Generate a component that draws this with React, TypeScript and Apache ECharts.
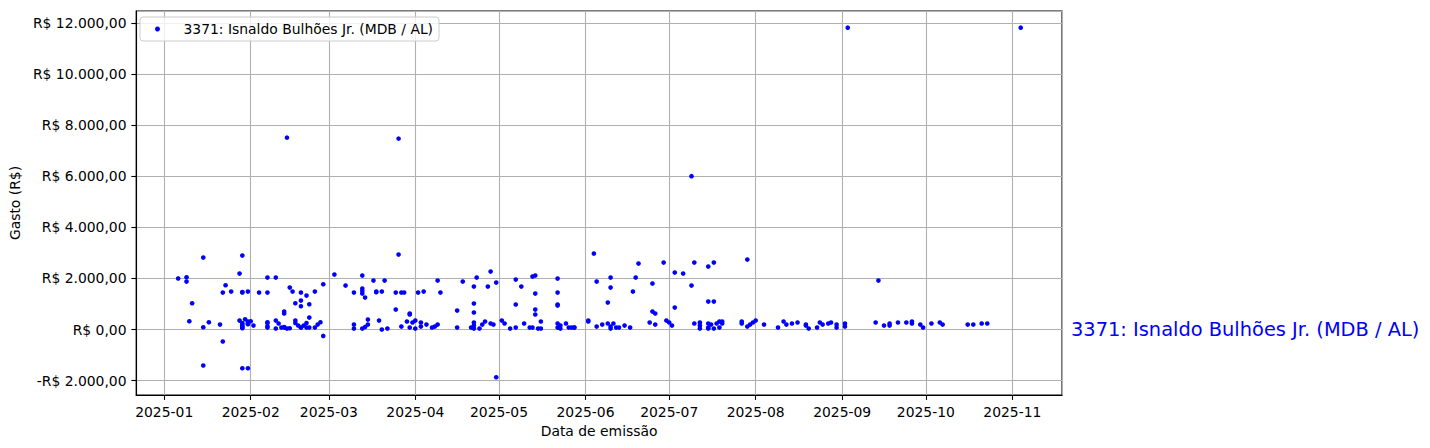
import React, { useEffect, useRef } from "react";
import * as echarts from "echarts";

const seriesName = "3371: Isnaldo Bulhões Jr. (MDB / AL)";
const xAxisTitle = "Data de emissão";
const yAxisTitle = "Gasto (R$)";

const emissionDates: string[] = [
  "2025-01-06", "2025-01-09", "2025-01-09", "2025-01-10", "2025-01-11",
  "2025-01-15", "2025-01-15", "2025-01-15", "2025-01-17", "2025-01-21",
  "2025-01-22", "2025-01-22", "2025-01-23", "2025-01-25", "2025-01-28",
  "2025-01-28", "2025-01-29", "2025-01-29", "2025-01-29", "2025-01-29",
  "2025-01-29", "2025-01-29", "2025-01-29", "2025-01-29", "2025-01-29",
  "2025-01-30", "2025-01-31", "2025-01-31", "2025-01-31", "2025-01-31",
  "2025-01-31", "2025-02-01", "2025-02-02", "2025-02-04", "2025-02-07",
  "2025-02-07", "2025-02-07", "2025-02-07", "2025-02-07", "2025-02-07",
  "2025-02-10", "2025-02-10", "2025-02-10", "2025-02-11", "2025-02-12",
  "2025-02-13", "2025-02-13", "2025-02-13", "2025-02-13", "2025-02-14",
  "2025-02-14", "2025-02-15", "2025-02-15", "2025-02-16", "2025-02-17",
  "2025-02-17", "2025-02-17", "2025-02-18", "2025-02-19", "2025-02-19",
  "2025-02-19", "2025-02-19", "2025-02-19", "2025-02-20", "2025-02-21",
  "2025-02-21", "2025-02-21", "2025-02-22", "2025-02-22", "2025-02-22",
  "2025-02-24", "2025-02-24", "2025-02-25", "2025-02-26", "2025-02-27",
  "2025-02-27",
  "2025-03-03", "2025-03-07", "2025-03-10", "2025-03-10", "2025-03-10",
  "2025-03-13", "2025-03-13", "2025-03-13", "2025-03-13", "2025-03-13",
  "2025-03-14", "2025-03-14", "2025-03-15", "2025-03-15", "2025-03-17",
  "2025-03-18", "2025-03-18", "2025-03-19", "2025-03-20", "2025-03-20",
  "2025-03-21", "2025-03-22", "2025-03-25", "2025-03-25", "2025-03-26",
  "2025-03-26", "2025-03-27", "2025-03-27", "2025-03-28", "2025-03-29",
  "2025-03-30", "2025-03-30", "2025-03-30", "2025-03-31",
  "2025-04-01", "2025-04-01", "2025-04-02", "2025-04-03", "2025-04-03",
  "2025-04-04", "2025-04-05", "2025-04-07", "2025-04-08", "2025-04-09",
  "2025-04-09", "2025-04-10", "2025-04-16", "2025-04-16", "2025-04-18",
  "2025-04-21", "2025-04-22", "2025-04-22", "2025-04-22", "2025-04-22",
  "2025-04-22", "2025-04-22", "2025-04-23", "2025-04-24", "2025-04-25",
  "2025-04-26", "2025-04-27", "2025-04-28", "2025-04-28", "2025-04-29",
  "2025-04-30", "2025-04-30",
  "2025-05-02", "2025-05-03", "2025-05-05", "2025-05-07", "2025-05-07",
  "2025-05-07", "2025-05-09", "2025-05-10", "2025-05-12", "2025-05-13",
  "2025-05-13", "2025-05-14", "2025-05-14", "2025-05-14", "2025-05-14",
  "2025-05-15", "2025-05-16", "2025-05-16", "2025-05-22", "2025-05-22",
  "2025-05-22", "2025-05-22", "2025-05-22", "2025-05-22", "2025-05-23",
  "2025-05-23", "2025-05-25", "2025-05-26", "2025-05-27", "2025-05-28",
  "2025-05-28",
  "2025-06-02", "2025-06-02", "2025-06-04", "2025-06-05", "2025-06-05",
  "2025-06-07", "2025-06-09", "2025-06-09", "2025-06-10", "2025-06-10",
  "2025-06-10", "2025-06-10", "2025-06-11", "2025-06-12", "2025-06-13",
  "2025-06-15", "2025-06-17", "2025-06-18", "2025-06-19", "2025-06-20",
  "2025-06-24", "2025-06-25", "2025-06-25", "2025-06-26", "2025-06-26",
  "2025-06-29", "2025-06-30",
  "2025-07-01", "2025-07-02", "2025-07-03", "2025-07-03", "2025-07-06",
  "2025-07-09", "2025-07-09", "2025-07-10", "2025-07-10", "2025-07-12",
  "2025-07-12", "2025-07-12", "2025-07-15", "2025-07-15", "2025-07-15",
  "2025-07-15", "2025-07-15", "2025-07-16", "2025-07-17", "2025-07-17",
  "2025-07-17", "2025-07-18", "2025-07-19", "2025-07-19", "2025-07-20",
  "2025-07-20", "2025-07-27", "2025-07-27", "2025-07-29", "2025-07-29",
  "2025-07-30", "2025-07-31",
  "2025-08-01", "2025-08-04", "2025-08-09", "2025-08-11", "2025-08-12",
  "2025-08-14", "2025-08-16", "2025-08-19", "2025-08-19", "2025-08-20",
  "2025-08-23", "2025-08-24", "2025-08-25", "2025-08-27", "2025-08-28",
  "2025-08-30", "2025-08-30",
  "2025-09-02", "2025-09-02", "2025-09-03", "2025-09-13", "2025-09-14",
  "2025-09-16", "2025-09-18", "2025-09-18", "2025-09-21", "2025-09-24",
  "2025-09-26", "2025-09-26", "2025-09-29", "2025-09-30",
  "2025-10-03", "2025-10-06", "2025-10-07", "2025-10-16", "2025-10-18",
  "2025-10-21", "2025-10-23",
  "2025-11-04",
];

const amounts: number[] = [
  2000, 2045, 1877, 324, 1028,
  2815, 90, -1408, 285, 195,
  1447, -469, 1732, 1486, 2190,
  352, 2893, 1470, 1450, 200,
  90, 50, -1513, 258, 130,
  403, 1486, 246, -1513, 313,
  207, 324, 156, 1447, 2033,
  1447, 285, 78, 258, 130,
  2033, 352, 39, 235, 78,
  704, 626, 100, 78, 7507,
  39, 1642, 50, 1486, 1028,
  352, 258, 156, 1447, 1134,
  911, 78, 78, 156, 1329,
  258, 78, 989, 469, 78,
  1486, 78, 195, 285, 1771,
  -250,
  2150, 1720, 1447, 195, 39,
  2111, 1603, 1509, 1408, 39,
  1251, 102, 391, 195, 1916,
  1490, 1460, 352, 1486, 0,
  1916, 39, 1447, 782, 2932,
  7468, 1447, 117, 1447, 313,
  626, 587, 78, 274,
  352, 39, 1447, 274, 117,
  1486, 195, 78, 117, 1916,
  195, 1447, 743, 78, 1877,
  78, 1681, 1017, 665, 274,
  156, 39, 2033, 39, 195,
  313, 1681, 2268, 235, 195,
  1838, -1865,
  352, 235, 39, 1955, 978,
  78, 1681, 235, 78, 2072,
  78, 2111, 1408, 782, 587,
  39, 39, 313, 1994, 1447,
  978, 938, 78, 235, 156,
  39, 235, 78, 78, 78,
  78,
  352, 313, 2971, 1877, 117,
  195, 1056, 235, 2033, 1642,
  117, 39, 235, 78, 78,
  156, 78, 1486, 2033, 2580,
  274, 1799, 704, 626, 195,
  2620, 352,
  274, 156, 2229, 860, 2190,
  6000, 1720, 2620, 235, 274,
  156, 39, 2463, 1095, 235,
  78, 39, 195, 2620, 1095,
  39, 235, 313, 78, 313,
  235, 313, 235, 2737, 117,
  195, 274,
  352, 195, 78, 313, 195,
  235, 274, 195, 156, 39,
  78, 274, 195, 235, 274,
  195, 78,
  235, 117, 11808, 274, 1916,
  156, 235, 156, 274, 274,
  235, 313, 195, 78,
  235, 274, 195, 195, 195,
  235, 235,
  11808,
];

const yMin = -2560;
const yMax = 12460;

function formatBRL(v: number): string {
  const abs = Math.abs(v);
  const [intPart, decPart] = abs.toFixed(2).split(".");
  const grouped = intPart.replace(/\B(?=(\d{3})+(?!\d))/g, ".");
  return (v < 0 ? "-" : "") + "R$ " + grouped + "," + decPart;
}

export default function App() {
  const ref = useRef<HTMLDivElement>(null);

  useEffect(() => {
    if (!ref.current) return;
    const chart = echarts.init(ref.current, undefined, { renderer: "svg" });
    const DAY = 86400000;
    const xMin = new Date(2024, 11, 21, 23).getTime();
    const xMax = new Date(2025, 10, 18, 19).getTime();
    const font = "DejaVu Sans";
    const data = emissionDates.map((d, i) => [d, amounts[i]]);

    chart.setOption({
      animation: false,
      backgroundColor: "#ffffff",
      textStyle: { fontFamily: font },
      grid: {
        left: 132,
        top: 11,
        width: 930,
        height: 384,
        show: true,
        borderColor: "#000000",
        borderWidth: 1.1,
        backgroundColor: "#ffffff",
        containLabel: false,
      },
      legend: {
        show: true,
        left: 140,
        top: 17,
        orient: "horizontal",
        padding: [5, 6, 5, 15],
        itemWidth: 18,
        itemHeight: 5,
        icon: "circle",
        backgroundColor: "rgba(255,255,255,0.8)",
        borderColor: "#cccccc",
        borderWidth: 1,
        borderRadius: 3,
        textStyle: {
          color: "#000000",
          fontSize: 13.9,
          fontFamily: font,
          padding: [0, 0, 0, 12],
        },
        data: [{ name: seriesName, itemStyle: { color: "#0000ff", opacity: 1 } }],
      },
      xAxis: {
        type: "time",
        min: xMin,
        max: xMax,
        splitNumber: 11,
        minInterval: 28 * DAY,
        maxInterval: 31 * DAY,
        name: xAxisTitle,
        nameLocation: "middle",
        nameGap: 28,
        nameTextStyle: { color: "#000000", fontSize: 13.9, fontFamily: font },
        axisLine: { show: true, onZero: false, lineStyle: { color: "#000000", width: 1.1 } },
        axisTick: { show: true, length: 4.9, lineStyle: { color: "#000000", width: 1.1 } },
        axisLabel: {
          formatter: "{yyyy}-{MM}",
          color: "#000000",
          fontSize: 13.9,
          fontFamily: font,
          margin: 9.7,
          showMinLabel: false,
          showMaxLabel: false,
          hideOverlap: false,
        },
        splitLine: { show: true, lineStyle: { color: "#b0b0b0", width: 1.1 } },
      },
      yAxis: {
        type: "value",
        min: yMin,
        max: yMax,
        splitNumber: 7,
        name: yAxisTitle,
        nameLocation: "middle",
        nameGap: 102,
        nameRotate: 90,
        nameTextStyle: { color: "#000000", fontSize: 13.9, fontFamily: font },
        axisLine: { show: true, lineStyle: { color: "#000000", width: 1.1 } },
        axisTick: { show: true, length: 4.9, lineStyle: { color: "#000000", width: 1.1 } },
        axisLabel: {
          formatter: (v: number) => formatBRL(v),
          color: "#000000",
          fontSize: 13.9,
          fontFamily: font,
          margin: 9.7,
          showMinLabel: false,
          showMaxLabel: false,
        },
        splitLine: { show: true, lineStyle: { color: "#b0b0b0", width: 1.1 } },
      },
      series: [
        {
          type: "scatter",
          name: seriesName,
          data,
          symbol: "circle",
          symbolSize: 4.6,
          itemStyle: { color: "#0000ff", opacity: 1 },
        },
      ],
      graphic: [
        {
          type: "text",
          x: 1071,
          y: 329,
          style: {
            text: seriesName,
            fill: "#0000ff",
            fontSize: 19.4,
            fontFamily: font,
            align: "left",
            verticalAlign: "middle",
          },
        },
      ],
    });

    return () => chart.dispose();
  }, []);

  return (
    <div
      ref={ref}
      style={{ position: "fixed", left: 0, top: 0, width: 1430, height: 448 }}
    />
  );
}
